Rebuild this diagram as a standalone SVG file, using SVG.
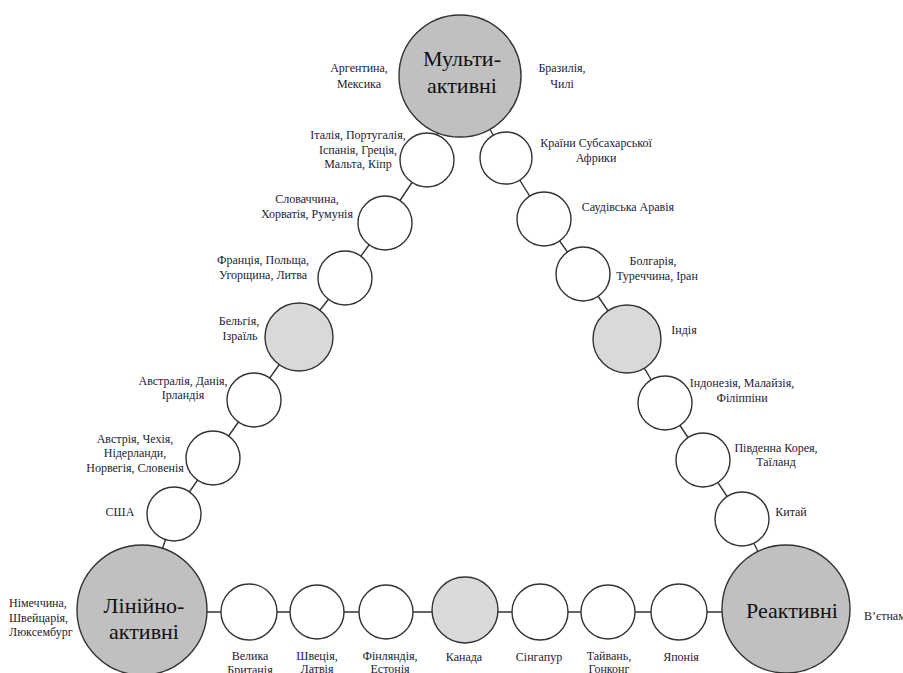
<svg xmlns="http://www.w3.org/2000/svg" width="903" height="673" viewBox="0 0 903 673">
<style>
.c{stroke:#333;stroke-width:1.4}
.big{fill:#c0c0c0}
.mid{fill:#d9d9d9}
.sm{fill:#fff}
.lbl{font-family:"Liberation Serif","Times New Roman",serif;font-size:12px;fill:#1c2233;text-anchor:middle}
.lt{text-anchor:start}
.bl{font-family:"Liberation Serif","Times New Roman",serif;font-size:22px;fill:#111;text-anchor:middle}
#connectors line{stroke:#333;stroke-width:1.4}
</style>
<rect width="903" height="673" fill="#fff"/>
<g id="connectors">
<line x1="460" y1="76" x2="427" y2="160"/>
<line x1="427" y1="160" x2="385" y2="223"/>
<line x1="385" y1="223" x2="345" y2="278"/>
<line x1="345" y1="278" x2="299" y2="337"/>
<line x1="299" y1="337" x2="254" y2="400"/>
<line x1="254" y1="400" x2="213" y2="458"/>
<line x1="213" y1="458" x2="174" y2="514"/>
<line x1="174" y1="514" x2="142" y2="610"/>
<line x1="460" y1="76" x2="506" y2="158"/>
<line x1="506" y1="158" x2="544" y2="219"/>
<line x1="544" y1="219" x2="583" y2="274"/>
<line x1="583" y1="274" x2="627" y2="339"/>
<line x1="627" y1="339" x2="665" y2="403"/>
<line x1="665" y1="403" x2="703" y2="460"/>
<line x1="703" y1="460" x2="742" y2="519"/>
<line x1="742" y1="519" x2="786" y2="609"/>
<line x1="142" y1="612" x2="786" y2="612"/>
</g>
<g id="n-multi"><circle class="c big" cx="460" cy="76" r="61"/><text class="bl" x="462" y="66">Мульти-</text><text class="bl" x="462" y="93">активні</text></g>
<g id="n-linear"><circle class="c big" cx="142" cy="610" r="65"/><text class="bl" x="144" y="613">Лінійно-</text><text class="bl" x="144" y="639">активні</text></g>
<g id="n-reactive"><circle class="c big" cx="786" cy="609" r="64"/><text class="bl" x="792" y="618">Реактивні</text></g>

<g id="n-italy"><circle class="c sm" cx="427" cy="160" r="27"/></g>
<g id="n-slovakia"><circle class="c sm" cx="385" cy="223" r="27"/></g>
<g id="n-france"><circle class="c sm" cx="345" cy="278" r="27"/></g>
<g id="n-belgium"><circle class="c mid" cx="299" cy="337" r="34"/></g>
<g id="n-australia"><circle class="c sm" cx="254" cy="400" r="27"/></g>
<g id="n-austria"><circle class="c sm" cx="213" cy="458" r="27"/></g>
<g id="n-usa"><circle class="c sm" cx="174" cy="514" r="27"/></g>

<g id="n-africa"><circle class="c sm" cx="506" cy="158" r="26"/></g>
<g id="n-saudi"><circle class="c sm" cx="544" cy="219" r="27"/></g>
<g id="n-bulgaria"><circle class="c sm" cx="583" cy="274" r="27"/></g>
<g id="n-india"><circle class="c mid" cx="627" cy="339" r="34"/></g>
<g id="n-indonesia"><circle class="c sm" cx="665" cy="403" r="27"/></g>
<g id="n-korea"><circle class="c sm" cx="703" cy="460" r="27"/></g>
<g id="n-china"><circle class="c sm" cx="742" cy="519" r="27"/></g>

<g id="n-uk"><circle class="c sm" cx="249" cy="612" r="28"/></g>
<g id="n-sweden"><circle class="c sm" cx="317" cy="612" r="27"/></g>
<g id="n-finland"><circle class="c sm" cx="386" cy="612" r="27"/></g>
<g id="n-canada"><circle class="c mid" cx="465" cy="610" r="33"/></g>
<g id="n-singapore"><circle class="c sm" cx="540" cy="612" r="28"/></g>
<g id="n-taiwan"><circle class="c sm" cx="608" cy="612" r="27"/></g>
<g id="n-japan"><circle class="c sm" cx="679" cy="612" r="28"/></g>

<g id="labels">
<text class="lbl" x="359" y="72">Аргентина,</text><text class="lbl" x="359" y="88">Мексика</text>
<text class="lbl" x="562" y="72">Бразилія,</text><text class="lbl" x="562" y="88">Чилі</text>
<text class="lbl" x="358" y="139">Італія, Португалія,</text><text class="lbl" x="358" y="154">Іспанія, Греція,</text><text class="lbl" x="358" y="168">Мальта, Кіпр</text>
<text class="lbl" x="596" y="147">Країни Субсахарської</text><text class="lbl" x="596" y="162">Африки</text>
<text class="lbl" x="307" y="203">Словаччина,</text><text class="lbl" x="307" y="218">Хорватія, Румунія</text>
<text class="lbl" x="263" y="264">Франція, Польща,</text><text class="lbl" x="263" y="279">Угорщина, Литва</text>
<text class="lbl" x="239" y="325">Бельгія,</text><text class="lbl" x="240" y="340">Ізраїль</text>
<text class="lbl" x="183" y="385">Австралія, Данія,</text><text class="lbl" x="183" y="399">Ірландія</text>
<text class="lbl" x="135" y="443">Австрія, Чехія,</text><text class="lbl" x="135" y="457">Нідерланди,</text><text class="lbl" x="135" y="472">Норвегія, Словенія</text>
<text class="lbl" x="120" y="516">США</text>
<text class="lbl lt" x="9" y="607">Німеччина,</text><text class="lbl lt" x="9" y="622">Швейцарія,</text><text class="lbl lt" x="9" y="636">Люксембург</text>
<text class="lbl" x="250" y="660">Велика</text><text class="lbl" x="250" y="674">Британія</text>
<text class="lbl" x="317" y="660">Швеція,</text><text class="lbl" x="317" y="673">Латвія</text>
<text class="lbl" x="390" y="660">Фінляндія,</text><text class="lbl" x="390" y="673">Естонія</text>
<text class="lbl" x="464" y="661">Канада</text>
<text class="lbl" x="539" y="661">Сінгапур</text>
<text class="lbl" x="609" y="660">Тайвань,</text><text class="lbl" x="609" y="673">Гонконг</text>
<text class="lbl" x="681" y="661">Японія</text>
<text class="lbl lt" x="864" y="620">В’єтнам</text>
<text class="lbl" x="628" y="211">Саудівська Аравія</text>
<text class="lbl" x="653" y="265">Болгарія,</text><text class="lbl" x="657" y="280">Туреччина, Іран</text>
<text class="lbl" x="684" y="334">Індія</text>
<text class="lbl" x="742" y="387">Індонезія, Малайзія,</text><text class="lbl" x="742" y="402">Філіппіни</text>
<text class="lbl" x="776" y="452">Південна Корея,</text><text class="lbl" x="776" y="466">Таїланд</text>
<text class="lbl" x="791" y="516">Китай</text>
</g>
</svg>
